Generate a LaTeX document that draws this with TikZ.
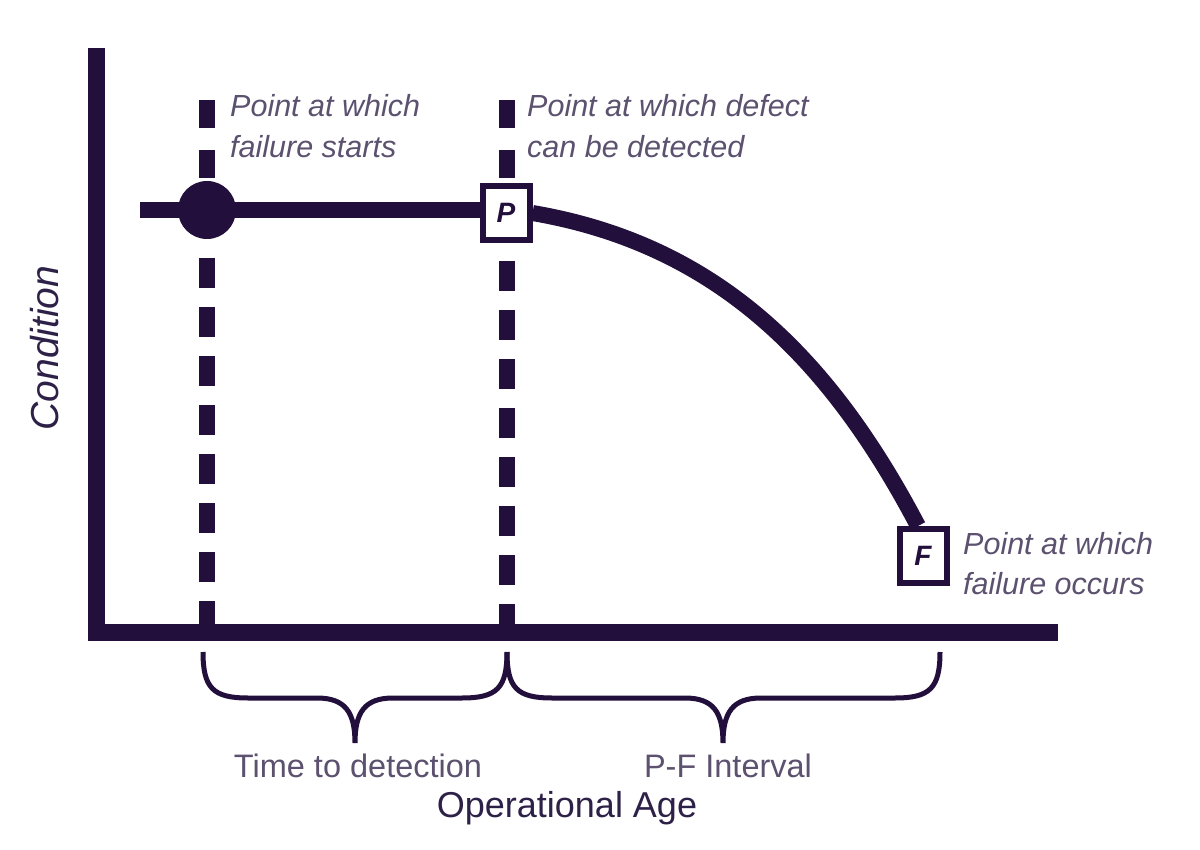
\documentclass[tikz,border=0pt]{standalone}
\usepackage{fontspec}
\setmainfont{Liberation Sans}
\definecolor{ink}{HTML}{220F3B}
\definecolor{lbl}{HTML}{5C516F}
\definecolor{axlbl}{HTML}{2E2148}
\pgfdeclarelayer{paper}
\pgfdeclarelayer{lines}
\pgfsetlayers{paper,lines,main}
\begin{document}
\begin{tikzpicture}[x=1pt,y=-1pt,
  axisline/.style={draw=ink,line width=17.5pt,line join=miter},
  vdash/.style={draw=ink,line width=16pt},
  condline/.style={draw=ink,line width=16pt},
  bracepath/.style={draw=ink,line width=5pt},
  pfbox/.style={draw=ink,line width=6pt,fill=white,minimum width=47pt,minimum height=54pt,inner sep=0pt,text=ink,font=\bfseries\itshape\fontsize{28}{28}\selectfont},
  note/.style={text=lbl,font=\itshape\fontsize{30.5}{36}\selectfont,inner sep=0pt},
  spanlbl/.style={text=lbl,font=\fontsize{32.5}{38}\selectfont,inner sep=0pt,anchor=base},
  axlabel/.style={text=axlbl,inner sep=0pt,anchor=base}]
\useasboundingbox (0,0) rectangle (1200,850);
\begin{pgfonlayer}{paper}
\fill[white] (0,0) rectangle (1200,850);
\end{pgfonlayer}
% markers
\node[pfbox] (P) at (506,213) {P};
\node[pfbox] (F) at (923,556) {F};
\node[circle,fill=ink,minimum size=58pt,inner sep=0pt] (start) at (207,210) {};
\begin{pgfonlayer}{lines}
% axes
\coordinate (ytop) at (96.5,48);
\coordinate (origin) at (96.5,632.5);
\coordinate (xend) at (1058,632.5);
\draw[axisline] (ytop) -- (origin) -- (xend);
% dashed verticals
\coordinate (d1a) at (207,100);
\coordinate (d1b) at (207,180);
\coordinate (d1c) at (207,258);
\coordinate (d1d) at (207,632);
\coordinate (d2a) at (507,100);
\coordinate (d2b) at (507,183);
\coordinate (d2c) at (507,261);
\coordinate (d2d) at (507,632);
\draw[vdash,dash pattern=on 28pt off 22pt] (d1a) -- (d1b);
\draw[vdash,dash pattern=on 30pt off 19pt] (d1c) -- (d1d);
\draw[vdash,dash pattern=on 28pt off 22pt] (d2a) -- (d2b);
\draw[vdash,dash pattern=on 30pt off 19pt] (d2c) -- (d2d);
% condition curve
\coordinate (hstart) at (140,210);
\draw[condline] (hstart) -- (P.west |- hstart);
\draw[condline] (P.east) .. controls (713,244) and (827,353) .. ([xshift=-5pt]F.north);
\end{pgfonlayer}
% annotations
\node[note,anchor=base west] (n1a) at (230,117) {Point at which};
\node[note,anchor=base west] (n1b) at (230,158) {failure starts};
\node[note,anchor=base west] (n2a) at (527,117) {Point at which defect};
\node[note,anchor=base west] (n2b) at (527,158) {can be detected};
\node[note,anchor=base west] (n3a) at (963,554) {Point at which};
\node[note,anchor=base west] (n3b) at (963,594) {failure occurs};
% braces
\coordinate (b1l) at (203,652);
\coordinate (b1m) at (355,743);
\coordinate (b1r) at (507,652);
\coordinate (b2m) at (723,743);
\coordinate (b2r) at (940,652);
\draw[bracepath] (b1l) .. controls (203,688) and (213,698) .. (248,698) -- (317,698)
  .. controls (345,698) and (355,712) .. (b1m)
  .. controls (355,712) and (365,698) .. (393,698) -- (462,698)
  .. controls (497,698) and (507,688) .. (b1r);
\draw[bracepath] (b1r) .. controls (507,688) and (517,698) .. (552,698) -- (685,698)
  .. controls (713,698) and (723,712) .. (b2m)
  .. controls (723,712) and (733,698) .. (761,698) -- (895,698)
  .. controls (930,698) and (940,688) .. (b2r);
\node[spanlbl] (ttd) at (358,777) {Time to detection};
\node[spanlbl] (pfi) at (728,777) {P-F Interval};
\node[axlabel,font=\fontsize{36}{40}\selectfont] (xlab) at (567,817) {Operational Age};
\node[axlabel,font=\itshape\fontsize{39}{44}\selectfont,rotate=90] (ylab) at (58,348) {Condition};
\end{tikzpicture}
\end{document}
